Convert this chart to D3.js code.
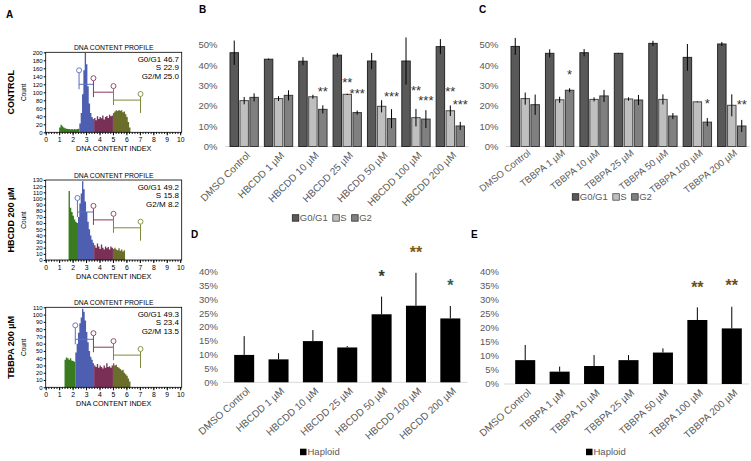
<!DOCTYPE html>
<html><head><meta charset="utf-8">
<script src="https://cdn.jsdelivr.net/npm/d3@7"></script>
<style>body{margin:0;background:#fff} svg text{font-family:Arial,"Liberation Sans",sans-serif}</style>
</head><body><svg id="c" width="751" height="461"></svg>
<script>
// ---------- DATA ----------
const binWidth = 0.1;
const ctrlHistStart = 1.0;
const ctrlHistCounts = [12,19,15,12,10,9,8,8,7,8,7,8,7,8,9,
  22,48,95,155,198,170,115,72,48,38,33,
  36,30,40,33,38,35,42,32,38,41,36,44,40,42,
  48,52,55,53,56,54,55,50,52,45,38,26,12];
const hbcddHistStart = 1.7;
const hbcddHistCounts = [112,85,78,72,66,62,60,
  70,92,108,128,115,95,78,62,50,40,33,28,
  24,20,27,22,18,25,20,17,22,19,21,17,22,20,
  18,20,17,16,19,15,17,14,16];
const tbbpaHistStart = 1.4;
const tbbpaHistCounts = [38,41,40,38,40,37,36,35,
  48,60,75,88,96,108,104,92,76,62,50,42,38,33,
  30,28,32,27,30,28,26,30,27,33,28,29,27,30,
  33,30,31,28,27,25,23,24,20,18,16,12,8];
const ctrlGates = [2.5, 3.6, 5.0];
const hbcddGates = [2.4, 3.6, 5.0];
const tbbpaGates = [2.2, 3.6, 5.0];
const ctrlMarkers = [2.48, 3.55, 5.04, 7.05];
const hbcddMarkers = [2.36, 3.55, 5.04, 7.05];
const tbbpaMarkers = [2.2, 3.55, 5.04, 7.05];
const ctrlStats = ["G0/G1 46.7", "S 22.9", "G2/M 25.0"];
const hbcddStats = ["G0/G1 49.2", "S 15.8", "G2/M 8.2"];
const tbbpaStats = ["G0/G1 49.3", "S 23.4", "G2/M 13.5"];
const ctrlYTicks = d3.range(0, 201, 20);
const hbcddYTicks = d3.range(0, 131, 10);
const tbbpaYTicks = d3.range(0, 111, 10);

const hbcddCats = ["DMSO Control","HBCDD 1 µM","HBCDD 10 µM","HBCDD 25 µM","HBCDD 50 µM","HBCDD 100 µM","HBCDD 200 µM"];
const tbbpaCats = ["DMSO Control","TBBPA 1 µM","TBBPA 10 µM","TBBPA 25 µM","TBBPA 50 µM","TBBPA 100 µM","TBBPA 200 µM"];
const cycleSeries = ["G0/G1","S","G2"];
const hbcddG0 = [46.2,43.0,42.0,45.0,42.1,42.1,49.2];
const hbcddG0Err = [6.0,0.3,2.0,1.0,4.0,11.6,3.7];
const hbcddS = [22.6,23.6,24.5,25.7,19.8,14.2,17.6];
const hbcddSErr = [1.8,1.2,1.0,0.3,3.0,4.3,2.6];
const hbcddG2 = [24.2,25.2,18.3,16.7,13.7,13.5,10.1];
const hbcddG2Err = [2.0,2.5,2.0,1.0,4.7,4.4,2.0];
const tbbpaG0 = [49.3,45.9,46.2,45.9,50.8,43.9,50.5];
const tbbpaG0Err = [4.2,2.0,1.8,0.2,1.3,6.6,1.0];
const tbbpaS = [23.6,23.0,23.2,23.4,23.2,22.0,20.3];
const tbbpaSErr = [3.0,1.5,1.0,0.8,2.5,0.2,5.4];
const tbbpaG2 = [20.6,27.7,24.9,22.9,15.0,12.0,10.1];
const tbbpaG2Err = [5.0,1.0,3.0,2.5,1.5,2.0,3.0];
const cycleTicks = [0,10,20,30,40,50];
const hbcddCycleStars = [
  {cat:2, s:2, label:"**", level:28.7},
  {cat:3, s:1, label:"**", level:33.1},
  {cat:3, s:2, label:"***", level:27.8},
  {cat:4, s:2, label:"***", level:26.2},
  {cat:5, s:1, label:"**", level:29.2},
  {cat:5, s:2, label:"***", level:24.0},
  {cat:6, s:1, label:"**", level:28.7},
  {cat:6, s:2, label:"***", level:22.1}];
const tbbpaCycleStars = [
  {cat:1, s:2, label:"*", level:36.8},
  {cat:5, s:2, label:"*", level:22.9},
  {cat:6, s:2, label:"**", level:22.1}];

const haploidTicks = [0,5,10,15,20,25,30,35,40];
const hbcddHaploid = [9.9,8.3,14.9,12.6,24.6,27.7,23.1];
const hbcddHaploidErr = [6.8,2.2,4.0,0.5,6.4,11.9,4.5];
const tbbpaHaploid = [8.5,4.4,6.4,8.5,11.2,22.8,19.8];
const tbbpaHaploidErr = [5.4,1.8,3.9,1.8,1.5,4.5,7.7];
const hbcddHaploidStars = [
  {cat:4, label:"*", level:39.6, color:"#2f3a36"},
  {cat:5, label:"**", level:48.4, color:"#7a5a12"},
  {cat:6, label:"*", level:36.4, color:"#2a6466"}];
const tbbpaHaploidStars = [
  {cat:5, label:"**", level:35.9, color:"#6e5014"},
  {cat:6, label:"**", level:36.4, color:"#6e5014"}];

// ---------- DRAW ----------
const svg = d3.select("#c");
function T(g, x, y, s, o = {}) {
  const t = g.append("text").attr("x", x).attr("y", y).text(s)
    .attr("font-size", o.size || 10).attr("fill", o.fill || "#000");
  if (o.anchor) t.attr("text-anchor", o.anchor);
  if (o.weight) t.attr("font-weight", o.weight);
  if (o.transform) t.attr("transform", o.transform);
  return t;
}

// Panel A
const gateFill = ["#3b7b20", "#4e5fb2", "#7a2f56", "#6b6d2a"];
const markCol = ["#5a6ec4", "#8a3660", "#84414f", "#7f8a3a"];
const vertCol = ["#5a6ec4", "#8a3660", "#7a8640", "#7f8a3a"];
const horCol = ["#5a6ec4", "#8a3660", "#7f8a3a"];
function histo(top, counts, start, gates, markers, stats, yTicks, label) {
  const L = 45.7, R = 181.7, H = 80;
  const g = svg.append("g");
  const x = d3.scaleLinear().domain([0, 10]).range([L, 180.2]);
  const y = d3.scaleLinear().domain([0, d3.max(yTicks)]).range([top + H, top]);
  const bins = counts.map((c, i) => ({b: start + i * binWidth, c}));
  const groups = d3.groups(bins, d => d3.bisectRight(gates, d.b + 1e-6));
  const area = d3.area().curve(d3.curveStepAfter).x(d => x(d.b)).y0(y(0)).y1(d => y(d.c));
  groups.forEach(([gi, arr], k) => {
    const last = arr[arr.length - 1];
    const pts = arr.concat([{b: last.b + binWidth, c: last.c}]);
    g.append("path").attr("d", area(pts)).attr("fill", gateFill[gi]);
  });
  // markers
  markers.forEach((m, i) => {
    const cy = top + 18 + i * 7.9;
    g.append("line").attr("x1", x(m)).attr("x2", x(m)).attr("y1", cy + 2.5).attr("y2", cy + 19)
      .attr("stroke", vertCol[i]).attr("stroke-width", 1);
    if (i < markers.length - 1) {
      g.append("line").attr("x1", x(m)).attr("x2", x(markers[i + 1])).attr("y1", cy + 14).attr("y2", cy + 14)
        .attr("stroke", horCol[i]).attr("stroke-width", 1);
    }
    g.append("circle").attr("cx", x(m)).attr("cy", cy).attr("r", 2.5)
      .attr("fill", "#fff").attr("stroke", markCol[i]).attr("stroke-width", 0.9);
  });
  g.append("rect").attr("x", L).attr("y", top).attr("width", R - L).attr("height", H)
    .attr("fill", "none").attr("stroke", "#000").attr("stroke-width", 0.8);
  const ya = g.append("g").attr("transform", `translate(${L},0)`)
    .call(d3.axisLeft(y).tickValues(yTicks).tickSize(2).tickPadding(1));
  ya.select(".domain").remove();
  ya.selectAll("text").attr("font-size", 6).attr("font-family", null);
  const xa = g.append("g").attr("transform", `translate(0,${top + H})`)
    .call(d3.axisBottom(x).tickValues(d3.range(0, 11)).tickSize(3).tickPadding(2));
  xa.select(".domain").remove();
  xa.selectAll("text").attr("font-size", 6.8).attr("font-family", null);
  const xm = g.append("g").attr("transform", `translate(0,${top + H})`)
    .call(d3.axisBottom(x).tickValues(d3.range(0, 10.01, 0.2)).tickSize(1.6).tickFormat(""));
  xm.select(".domain").remove();
  T(g, (L + R) / 2, top - 2, "DNA CONTENT PROFILE", {size: 6.8, anchor: "middle"});
  T(g, (L + R) / 2, top + 98.5, "DNA CONTENT INDEX", {size: 7.2, anchor: "middle"});
  stats.forEach((s, i) => T(g, 179, top + 9.5 + i * 8.5, s, {size: 8, anchor: "end"}));
  T(g, 0, 0, "Count", {size: 6.5, anchor: "middle", transform: `translate(26,${top + H / 2}) rotate(-90)`});
  T(g, 0, 0, label, {size: 9, anchor: "middle", weight: "bold", transform: `translate(13.5,${top + H / 2}) rotate(-90)`});
}
T(svg, 6, 18, "A", {size: 10, weight: "bold"});
histo(52.3, ctrlHistCounts, ctrlHistStart, ctrlGates, ctrlMarkers, ctrlStats, ctrlYTicks, "CONTROL");
histo(180, hbcddHistCounts, hbcddHistStart, hbcddGates, hbcddMarkers, hbcddStats, hbcddYTicks, "HBCDD 200 µM");
histo(307.3, tbbpaHistCounts, tbbpaHistStart, tbbpaGates, tbbpaMarkers, tbbpaStats, tbbpaYTicks, "TBBPA 200 µM");

// Panels B, C
const seriesFill = ["#595959", "#bfbfbf", "#808080"];
const seriesStroke = ["#262626", "#4a4a4a", "#383838"];
const GRAY = "#595959";
function cycleChart(cfg) {
  const g = svg.append("g");
  const x = d3.scaleBand().domain(cfg.cats).range([cfg.x0, cfg.x1]).paddingInner(0.176).paddingOuter(0.088);
  const xs = d3.scaleBand().domain(cycleSeries).range([0, x.bandwidth()]).paddingInner(0.15);
  const y = d3.scaleLinear().domain([0, 50]).range([146.5, 45]);
  cycleTicks.forEach(t => T(g, cfg.x0 - 9.5, y(t) + 3.4, t + "%", {size: 9.5, anchor: "end", fill: GRAY}));
  g.append("line").attr("x1", cfg.x0 - 2).attr("x2", cfg.x1 + 1).attr("y1", y(0)).attr("y2", y(0))
    .attr("stroke", "#d9d9d9").attr("stroke-width", 1);
  cfg.vals.forEach((arr, si) => {
    arr.forEach((v, ci) => {
      const bx = x(cfg.cats[ci]) + xs(cycleSeries[si]);
      g.append("rect").attr("x", bx).attr("width", xs.bandwidth()).attr("y", y(v)).attr("height", y(0) - y(v))
        .attr("fill", seriesFill[si]).attr("stroke", seriesStroke[si]).attr("stroke-width", 1);
      const e = cfg.errs[si][ci], cx = bx + xs.bandwidth() / 2;
      g.append("line").attr("x1", cx).attr("x2", cx).attr("y1", y(v - e)).attr("y2", y(v + e))
        .attr("stroke", "#000").attr("stroke-width", 1);
    });
  });
  cfg.stars.forEach(st => {
    const cx = x(cfg.cats[st.cat]) + xs(cycleSeries[st.s]) + xs.bandwidth() / 2;
    T(g, cx, y(st.level) + 7.5, st.label, {size: 13, anchor: "middle", fill: "#333"});
  });
  cfg.cats.forEach(c => {
    const cx = x(c) + x.bandwidth() / 2;
    T(g, 0, 0, c, {size: cfg.fs, anchor: "end", fill: GRAY,
      transform: `translate(${cx + 4},${y(0) + cfg.dy}) rotate(${cfg.rot})`}).attr("dy", "0.35em");
  });
  // legend
  let lx = cfg.legX;
  cycleSeries.forEach((s, si) => {
    g.append("rect").attr("x", lx).attr("y", cfg.legY - 3.3).attr("width", 6.5).attr("height", 6.5)
      .attr("fill", seriesFill[si]).attr("stroke", seriesStroke[si]).attr("stroke-width", 0.8);
    const t = T(g, lx + 7.5, cfg.legY + 3.3, s, {size: 9.5, fill: GRAY});
    lx += 7.5 + t.node().getComputedTextLength() + 5;
  });
  T(g, cfg.letterX, 12.5, cfg.letter, {size: 10, weight: "bold"});
}
cycleChart({cats: hbcddCats, vals: [hbcddG0, hbcddS, hbcddG2], errs: [hbcddG0Err, hbcddSErr, hbcddG2Err],
  stars: hbcddCycleStars, x0: 227, x1: 467.5, rot: -45, fs: 10, dy: 7, legX: 292.3, legY: 218, letter: "B", letterX: 199});
cycleChart({cats: tbbpaCats, vals: [tbbpaG0, tbbpaS, tbbpaG2], errs: [tbbpaG0Err, tbbpaSErr, tbbpaG2Err],
  stars: tbbpaCycleStars, x0: 508, x1: 749, rot: -38, fs: 9.5, dy: 5, legX: 572.3, legY: 197, letter: "C", letterX: 479});

// Panels D, E
function haploidChart(cfg) {
  const g = svg.append("g");
  const x = d3.scaleBand().domain(cfg.cats).range([cfg.x0, cfg.x1]).paddingInner(0.418).paddingOuter(0.209);
  const y = d3.scaleLinear().domain([0, 40]).range([cfg.base, 271.7]);
  haploidTicks.forEach(t => T(g, cfg.x0 - 9, y(t) + 3.4, t + "%", {size: 9.5, anchor: "end", fill: GRAY}));
  g.append("line").attr("x1", cfg.x0 - 4).attr("x2", cfg.x1).attr("y1", y(0)).attr("y2", y(0))
    .attr("stroke", "#d9d9d9").attr("stroke-width", 1);
  cfg.vals.forEach((v, ci) => {
    const bx = x(cfg.cats[ci]), cx = bx + x.bandwidth() / 2;
    g.append("rect").attr("x", bx).attr("width", x.bandwidth()).attr("y", y(v)).attr("height", y(0) - y(v))
      .attr("fill", "#000");
    g.append("line").attr("x1", cx).attr("x2", cx).attr("y1", y(v)).attr("y2", y(v + cfg.errs[ci]))
      .attr("stroke", "#000").attr("stroke-width", 1);
  });
  cfg.stars.forEach(st => {
    const cx = x(cfg.cats[st.cat]) + x.bandwidth() / 2;
    T(g, cx, y(st.level) + 9.3, st.label, {size: 16, anchor: "middle", fill: st.color, weight: "bold"});
  });
  cfg.cats.forEach(c => {
    const cx = x(c) + x.bandwidth() / 2;
    T(g, 0, 0, c, {size: 10, anchor: "end", fill: GRAY,
      transform: `translate(${cx + 4},${y(0) + 7}) rotate(-42)`}).attr("dy", "0.35em");
  });
  g.append("rect").attr("x", cfg.legX).attr("y", 452 - 3.3).attr("width", 6.5).attr("height", 6.5).attr("fill", "#000");
  T(g, cfg.legX + 7.5, 452 + 3.3, "Haploid", {size: 9.5, fill: GRAY});
  T(g, cfg.letterX, 238, cfg.letter, {size: 10, weight: "bold"});
}
haploidChart({cats: hbcddCats, vals: hbcddHaploid, errs: hbcddHaploidErr, stars: hbcddHaploidStars,
  x0: 227, x1: 467.5, base: 382.3, legX: 300, letter: "D", letterX: 191});
haploidChart({cats: tbbpaCats, vals: tbbpaHaploid, errs: tbbpaHaploidErr, stars: tbbpaHaploidStars,
  x0: 508, x1: 749, base: 384, legX: 586, letter: "E", letterX: 471});
</script></body></html>
